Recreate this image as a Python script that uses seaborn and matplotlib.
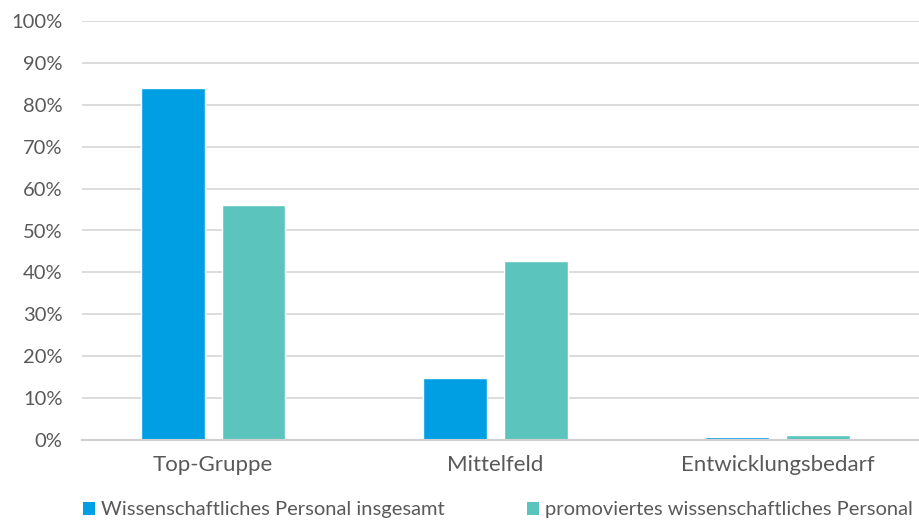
import numpy as np
import pandas as pd
import matplotlib
matplotlib.use('Agg')
import matplotlib.pyplot as plt
import seaborn as sns
from matplotlib.patches import Patch

categories = ['Top-Gruppe', 'Mittelfeld', 'Entwicklungsbedarf']
series = ['Wissenschaftliches Personal insgesamt', 'promoviertes wissenschaftliches Personal']
insgesamt = [84.1, 14.8, 0.7]
promoviert = [56.1, 42.7, 1.1]
colors = ['#009FE3', '#5BC5BD']
yticks = [0, 10, 20, 30, 40, 50, 60, 70, 80, 90, 100]

df = pd.DataFrame({
    'kategorie': categories * 2,
    'serie': [series[0]] * 3 + [series[1]] * 3,
    'wert': insgesamt + promoviert,
})

sns.set_style('white')
plt.rcParams['font.family'] = ['Lato', 'DejaVu Sans']
textcol = '#595959'

fig = plt.figure(figsize=(9.19, 5.21), dpi=100)
ax = fig.add_axes([82 / 919, 81 / 521, 837 / 919, 419 / 521])

sns.barplot(data=df, x='kategorie', y='wert', hue='serie', palette=colors,
            width=0.573, gap=0.21, saturation=1, legend=False, ax=ax)

ax.set_ylim(0, 100)
ax.set_xlim(-0.464, 2.5)
ax.set_yticks(yticks)
ax.set_yticklabels([f'{t}%' for t in yticks])
ax.yaxis.grid(True, color='#d9d9d9', linewidth=1.3)
ax.set_axisbelow(True)
for s in ['top', 'right', 'left']:
    ax.spines[s].set_visible(False)
ax.spines['bottom'].set_color('#d0d0d0')
ax.spines['bottom'].set_linewidth(1.5)
ax.set_xlabel('')
ax.set_ylabel('')
ax.tick_params(axis='both', length=0, colors=textcol)
ax.tick_params(axis='y', labelsize=14.5, pad=14)
ax.tick_params(axis='x', labelsize=16, pad=11)

handles = [Patch(facecolor=c, edgecolor='none') for c in colors]
fig.legend(handles, series, loc='center left', bbox_to_anchor=(83 / 919, 11 / 521),
           ncol=2, frameon=False, fontsize=14.5, labelcolor=textcol,
           borderpad=0, borderaxespad=0,
           handlelength=0.6, handleheight=0.6, handletextpad=0.3,
           columnspacing=4.1)

fig.savefig('out.png', dpi=100)
